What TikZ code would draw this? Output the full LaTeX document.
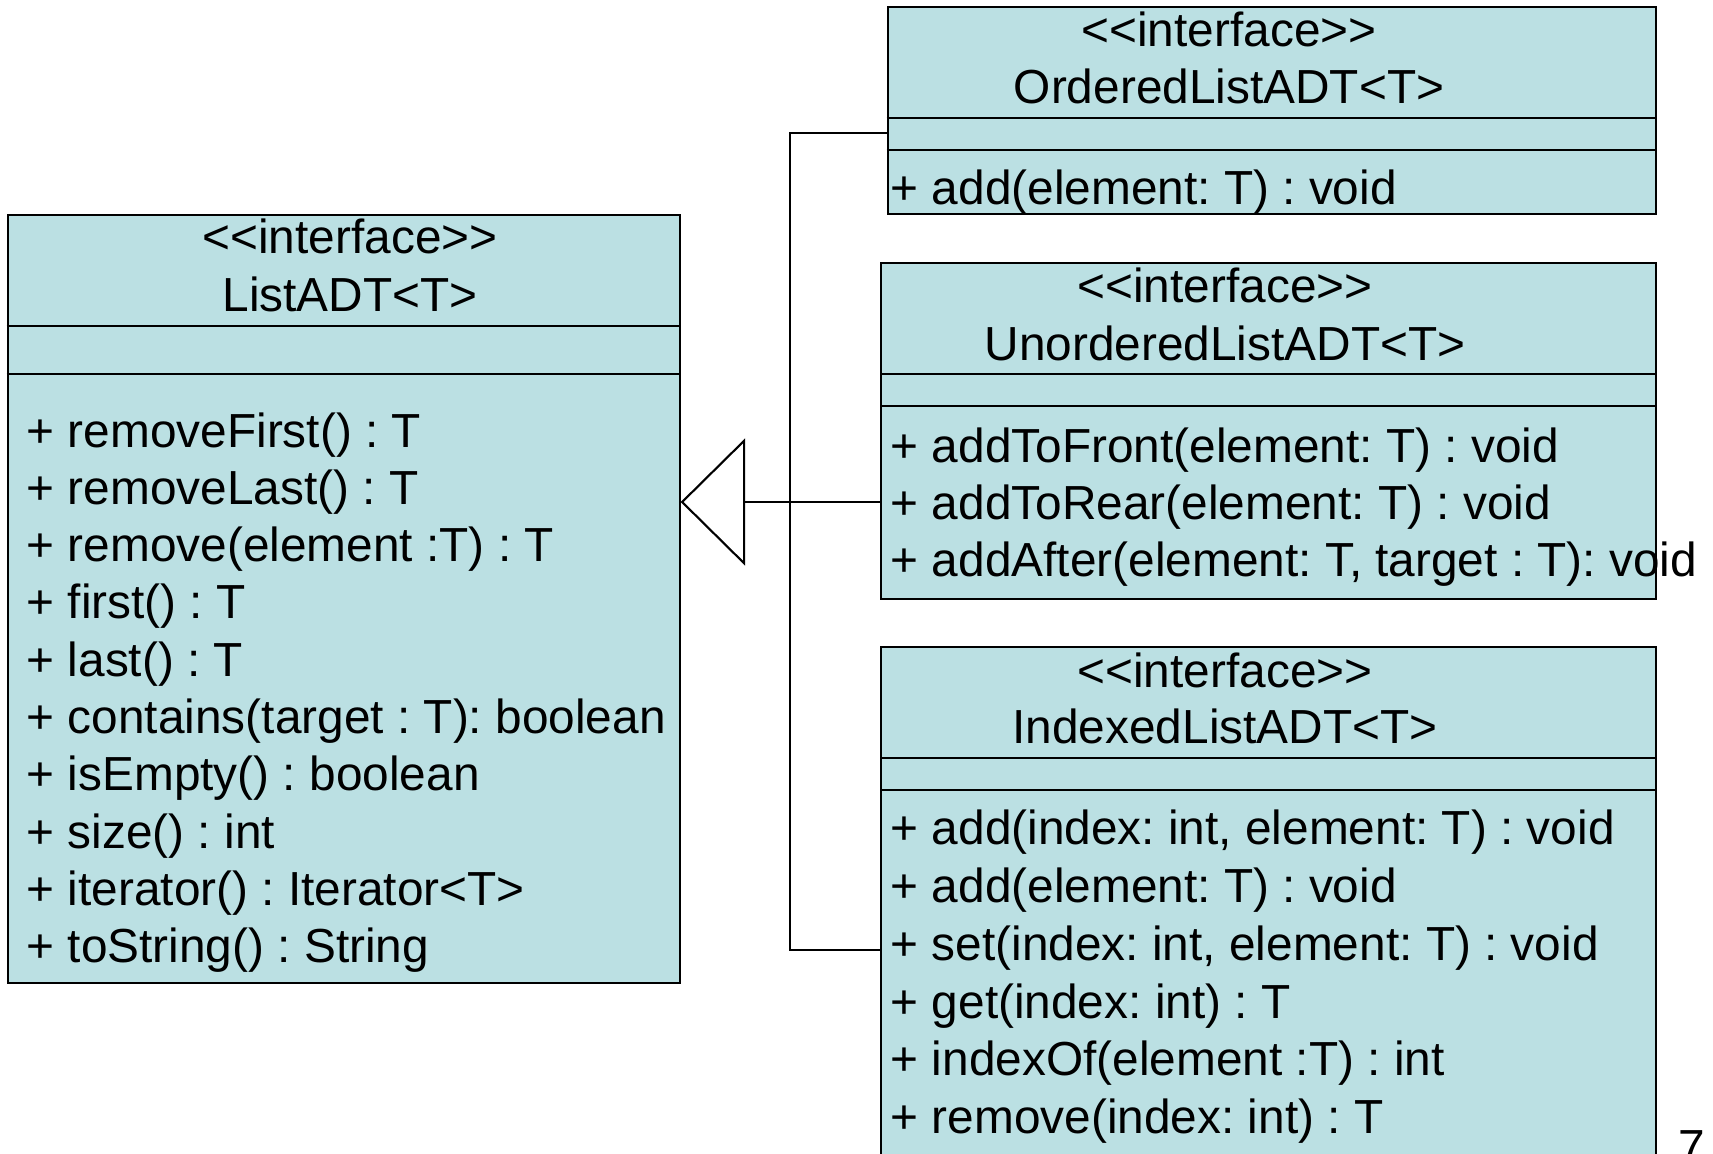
\documentclass[tikz,border=0pt]{standalone}
\usepackage{fontspec}
\setmainfont{Liberation Sans}[Ligatures=TeXOff]
\usepackage{tikz}
\usetikzlibrary{arrows.meta}
\definecolor{umlfill}{RGB}{187,224,227}
\newcommand{\opfont}{\fontsize{13.6pt}{16.3pt}\selectfont}
\frenchspacing

\begin{document}
\begin{tikzpicture}[x=0.1mm, y=-0.1mm,
    classbox/.style={draw, fill=umlfill, line width=0.6pt, inner sep=0pt, anchor=north west},
    txt/.style={inner sep=0pt, font=\opfont},
    op/.style={txt, anchor=base west},
    title/.style={txt, anchor=base},
    link/.style={line width=0.6pt}]
  \useasboundingbox (0,0) rectangle (1713,1153);

    % class ListADT
  \node[classbox, minimum width=67.18mm, minimum height=76.8mm] (list) at (6.7,214) {};
  \draw[link] (list.west |- 0,326) -- (list.east |- 0,326);
  \draw[link] (list.west |- 0,374) -- (list.east |- 0,374);
  \node[title] (liststereo) at (350,253) {<<interface>>};
  \node[title] (listname) at (350,311) {ListADT<T>};
  \node[op] (lop1) at (26,447) {+ removeFirst() : T};
  \node[op] (lop2) at (26,504) {+ removeLast() : T};
  \node[op] (lop3) at (26,561) {+ remove(element :T) : T};
  \node[op] (lop4) at (26,618) {+ first() : T};
  \node[op] (lop5) at (26,676) {+ last() : T};
  \node[op] (lop6) at (26,733) {+ contains(target : T): boolean};
  \node[op] (lop7) at (26,790) {+ isEmpty() : boolean};
  \node[op] (lop8) at (26,848) {+ size() : int};
  \node[op] (lop9) at (26,905) {+ iterator() : Iterator<T>};
  \node[op] (lop10) at (26,962) {+ toString() : String};

    % class OrderedListADT
  \node[classbox, minimum width=76.85mm, minimum height=20.7mm] (ordered) at (886.5,6) {};
  \draw[link] (ordered.west |- 0,117.7) -- (ordered.east |- 0,117.7);
  \draw[link] (ordered.west |- 0,150) -- (ordered.east |- 0,150);
  \node[title] (ordstereo) at (1229,46.7) {<<interface>>};
  \node[title] (ordname) at (1229,103) {OrderedListADT<T>};
  \node[op] (oop1) at (890,204) {+ add(element: T) : void};

    % class UnorderedListADT
  \node[classbox, minimum width=77.5mm, minimum height=33.6mm] (unordered) at (880,262) {};
  \draw[link] (unordered.west |- 0,374) -- (unordered.east |- 0,374);
  \draw[link] (unordered.west |- 0,406) -- (unordered.east |- 0,406);
  \node[title] (unostereo) at (1225,302) {<<interface>>};
  \node[title] (unoname) at (1225,360) {UnorderedListADT<T>};
  \node[op] (uop1) at (890,462) {+ addToFront(element: T) : void};
  \node[op] (uop2) at (890,519) {+ addToRear(element: T) : void};
  \node[op] (uop3) at (890,576) {+ addAfter(element: T, target : T): void};

    % class IndexedListADT
  \node[classbox, minimum width=77.5mm, minimum height=56mm] (indexed) at (880,646) {};
  \draw[link] (indexed.west |- 0,758) -- (indexed.east |- 0,758);
  \draw[link] (indexed.west |- 0,790) -- (indexed.east |- 0,790);
  \node[title] (idxstereo) at (1225,687) {<<interface>>};
  \node[title] (idxname) at (1225,743) {IndexedListADT<T>};
  \node[op] (iop1) at (890,844) {+ add(index: int, element: T) : void};
  \node[op] (iop2) at (890,902) {+ add(element: T) : void};
  \node[op] (iop3) at (890,960) {+ set(index: int, element: T) : void};
  \node[op] (iop4) at (890,1018) {+ get(index: int) : T};
  \node[op] (iop5) at (890,1075) {+ indexOf(element :T) : int};
  \node[op] (iop6) at (890,1133) {+ remove(index: int) : T};

    % generalisation
  \coordinate (bustop) at (790,133);
  \coordinate (busbot) at (790,950);
  \coordinate (hub) at (790,502);
  \draw[link] (ordered.west |- bustop) -- (bustop) -- (busbot) -- (indexed.west |- busbot);
  \draw[link, -{Triangle[open, length=6.45mm, width=12.7mm]}] (unordered.west |- hub) -- (list.east |- hub);

    % page number
  \node[op] (pagenum) at (1678,1163) {7};
\end{tikzpicture}
\end{document}
